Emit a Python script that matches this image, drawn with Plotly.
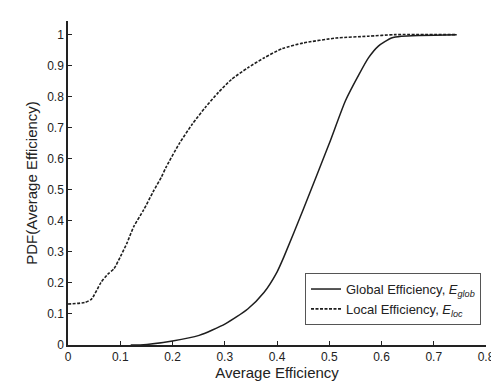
import plotly.graph_objects as go

# Local efficiency (dashed)
local_x = [0, 0.032, 0.045, 0.063, 0.076, 0.088, 0.101, 0.113, 0.126, 0.145, 0.163, 0.179,
           0.188, 0.213, 0.238, 0.263, 0.288, 0.313, 0.344, 0.375, 0.41, 0.45, 0.513, 0.575,
           0.625, 0.744]
local_y = [0.132, 0.137, 0.148, 0.201, 0.228, 0.246, 0.287, 0.329, 0.382, 0.436, 0.494, 0.542,
           0.574, 0.649, 0.712, 0.766, 0.814, 0.856, 0.893, 0.925, 0.955, 0.973, 0.989, 0.995,
           1.0, 1.0]

# Global efficiency (solid)
global_x = [0.12, 0.138, 0.2, 0.251, 0.301, 0.344, 0.375, 0.4, 0.413, 0.45, 0.5,
            0.531, 0.557, 0.575, 0.594, 0.619, 0.638, 0.744]
global_y = [0.0, 0.0, 0.013, 0.031, 0.068, 0.116, 0.169, 0.235, 0.283, 0.436, 0.649,
            0.787, 0.872, 0.925, 0.963, 0.989, 0.995, 1.0]

x_ticks = [0, 0.1, 0.2, 0.3, 0.4, 0.5, 0.6, 0.7, 0.8]
x_tick_labels = ["0", "0.1", "0.2", "0.3", "0.4", "0.5", "0.6", "0.7", "0.8"]
y_ticks = [0, 0.1, 0.2, 0.3, 0.4, 0.5, 0.6, 0.7, 0.8, 0.9, 1.0]
y_tick_labels = ["0", "0.1", "0.2", "0.3", "0.4", "0.5", "0.6", "0.7", "0.8", "0.9", "1"]

FONT = "Liberation Sans, Arial, sans-serif"
ink = "#1e1e1e"

fig = go.Figure()
fig.add_trace(go.Scatter(
    x=global_x, y=global_y, mode="lines",
    name="Global Efficiency, <i>E</i><sub><i>glob</i></sub>",
    line=dict(color=ink, width=1.5, shape="spline", smoothing=0.6),
))
fig.add_trace(go.Scatter(
    x=local_x, y=local_y, mode="lines",
    name="Local Efficiency, <i>E</i><sub><i>loc</i></sub>",
    line=dict(color=ink, width=1.6, dash="3px,1.5px", shape="spline", smoothing=0.6),
))

fig.update_layout(
    width=499, height=381,
    margin=dict(l=60, r=12, t=13, b=41, pad=0),
    paper_bgcolor="white", plot_bgcolor="white",
    font=dict(family=FONT, size=12, color="#222"),
    showlegend=True,
    legend=dict(
        x=0.567, y=0.222, xanchor="left", yanchor="top",
        bgcolor="white", bordercolor="#555", borderwidth=1,
        font=dict(size=13, color="#222"),
        tracegroupgap=2, itemwidth=30,
    ),
)
fig.update_xaxes(
    range=[0, 0.8], tickvals=x_ticks, ticktext=x_tick_labels,
    ticks="inside", ticklen=4, tickwidth=1, tickcolor="#222",
    showline=True, linecolor="#222", linewidth=1.5,
    showgrid=False, zeroline=False,
    title=dict(text="Average Efficiency", font=dict(size=15, color="#222"), standoff=2),
    tickfont=dict(size=12),
)
fig.update_yaxes(
    range=[0, 1.044], tickvals=y_ticks, ticktext=y_tick_labels,
    ticks="inside", ticklen=4, tickwidth=1, tickcolor="#222",
    showline=True, linecolor="#222", linewidth=1.5,
    showgrid=False, zeroline=False,
    title=dict(text="PDF(Average Efficiency)", font=dict(size=15, color="#222"), standoff=6),
    tickfont=dict(size=12),
)

fig.write_html("out.html")
